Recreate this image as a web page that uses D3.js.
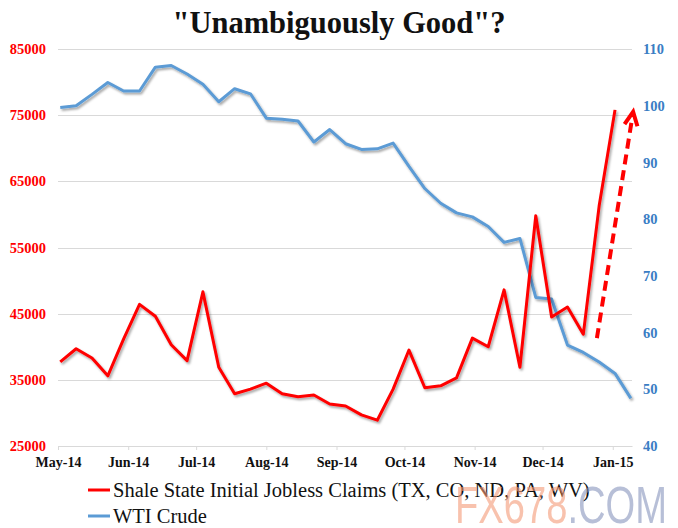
<!DOCTYPE html>
<html><head><meta charset="utf-8">
<script src="https://cdn.jsdelivr.net/npm/d3@7"></script>
<style>body{margin:0;background:#fff}svg{display:block}</style>
</head><body><svg id="c" width="678" height="528"></svg>
<script>
const dates = ["2014-05-02","2014-05-09","2014-05-16","2014-05-23","2014-05-30","2014-06-06","2014-06-13","2014-06-20","2014-06-27","2014-07-04","2014-07-11","2014-07-18","2014-07-25","2014-08-01","2014-08-08","2014-08-15","2014-08-22","2014-08-29","2014-09-05","2014-09-12","2014-09-19","2014-09-26","2014-10-03","2014-10-10","2014-10-17","2014-10-24","2014-10-31","2014-11-07","2014-11-14","2014-11-21","2014-11-28","2014-12-05","2014-12-12","2014-12-19","2014-12-26","2015-01-02","2015-01-09"];
const claims = [37700,39700,38300,35600,41200,46400,44600,40300,37900,48300,36900,32900,33600,34500,32900,32450,32700,31350,31050,29700,28900,33600,39500,33800,34100,35300,41300,40000,48600,36900,59800,44500,46000,41900,61300,75800];
const wti = [99.7,100.0,102.0,104.1,102.6,102.6,106.8,107.1,105.6,103.8,100.7,103.0,102.1,97.8,97.6,97.3,93.6,95.8,93.3,92.3,92.4,93.4,89.3,85.4,82.8,81.1,80.4,78.7,75.9,76.6,66.2,65.9,57.8,56.5,54.8,52.8,48.4];
const leftTicks = [25000,35000,45000,55000,65000,75000,85000];
const rightTicks = [40,50,60,70,80,90,100,110];
const monthTicks = ["2014-05-01","2014-06-01","2014-07-01","2014-08-01","2014-09-01","2014-10-01","2014-11-01","2014-12-01","2015-01-01"];
const xDomain = ["2014-05-01","2015-01-09T12:00"];
const arrowFrom = {date:"2014-12-25", value:41300};
const arrowTo = {date:"2015-01-10", value:75500};
const titleText = "\"Unambiguously Good\"?";
const legendItems = [{name:"Shale State Initial Jobless Claims (TX, CO, ND, PA, WV)", color:"#ff0000"},{name:"WTI Crude", color:"#5b9bd5"}];

const parse = s => new Date(s.length>10 ? s : s+"T00:00");
const svg = d3.select("#c");
const serif = "'Liberation Serif','Times New Roman',serif";
const L = 58, R = 632, T = 49, B = 446;

const x = d3.scaleTime().domain(xDomain.map(parse)).range([L,R]);
const yL = d3.scaleLinear().domain([25000,85000]).range([B,T]);
const yR = d3.scaleLinear().domain([40,110]).range([B,T]);

const defs = svg.append("defs");
const f = defs.append("filter").attr("id","sh").attr("x","-10%").attr("y","-10%").attr("width","120%").attr("height","120%");
f.append("feDropShadow").attr("dx",1.5).attr("dy",2).attr("stdDeviation",1.2).attr("flood-color","#000").attr("flood-opacity",0.35);

// title
svg.append("text").attr("x",339).attr("y",33).attr("text-anchor","middle")
  .attr("font-family",serif).attr("font-weight","bold").attr("font-size",30.5).attr("fill","#111").text(titleText);

// gridlines
svg.append("g").selectAll("line").data(leftTicks).join("line")
  .attr("x1",L).attr("x2",R).attr("y1",d=>Math.round(yL(d))+0.5).attr("y2",d=>Math.round(yL(d))+0.5)
  .attr("stroke","#d9d9d9").attr("stroke-width",1);

// x axis
const xa = svg.append("g").attr("transform",`translate(0,${B})`)
  .call(d3.axisBottom(x).tickValues(monthTicks.map(parse)).tickFormat(d3.timeFormat("%b-%y")).tickSize(4).tickSizeOuter(0));
xa.select(".domain").attr("stroke","#d9d9d9");
xa.selectAll(".tick line").attr("stroke","#d9d9d9");
xa.selectAll(".tick text").attr("font-family",serif).attr("font-weight","bold").attr("font-size",14).attr("fill","#111").attr("dy","1.0em");

// left axis labels
svg.append("g").selectAll("text").data(leftTicks).join("text")
  .attr("x",46).attr("y",d=>yL(d)).attr("dy","0.35em").attr("text-anchor","end")
  .attr("font-family",serif).attr("font-weight","bold").attr("font-size",14.5).attr("fill","#ff0000").text(d=>d);
// right axis labels
svg.append("g").selectAll("text").data(rightTicks).join("text")
  .attr("x",643).attr("y",d=>yR(d)).attr("dy","0.35em").attr("text-anchor","start")
  .attr("font-family",serif).attr("font-weight","bold").attr("font-size",14.5).attr("fill","#3a7dc4").text(d=>d);

// lines
const wtiData = wti.map((v,i)=>({d:parse(dates[i]),v}));
const clData = claims.map((v,i)=>({d:parse(dates[i]),v}));
svg.append("path").datum(wtiData).attr("fill","none").attr("stroke","#5b9bd5").attr("stroke-width",3).attr("stroke-linejoin","round")
  .attr("filter","url(#sh)").attr("d",d3.line().x(p=>x(p.d)).y(p=>yR(p.v)));
svg.append("path").datum(clData).attr("fill","none").attr("stroke","#ff0000").attr("stroke-width",3).attr("stroke-linejoin","round")
  .attr("filter","url(#sh)").attr("d",d3.line().x(p=>x(p.d)).y(p=>yL(p.v)));

// arrow
const ax1 = x(parse(arrowFrom.date)), ay1 = yL(arrowFrom.value);
const ax2 = x(parse(arrowTo.date)), ay2 = yL(arrowTo.value);
const ang = Math.atan2(ay2-ay1, ax2-ax1);
svg.append("line").attr("x1",ax1).attr("y1",ay1).attr("x2",ax2-Math.cos(ang)*4).attr("y2",ay2-Math.sin(ang)*4)
  .attr("stroke","#ff0000").attr("stroke-width",4).attr("stroke-dasharray","10,6");
const hl = 15, ha = 0.45;
svg.append("polyline").attr("points",[
  [ax2-hl*Math.cos(ang-ha), ay2-hl*Math.sin(ang-ha)],[ax2,ay2],[ax2-hl*Math.cos(ang+ha), ay2-hl*Math.sin(ang+ha)]].map(p=>p.join(",")).join(" "))
  .attr("fill","none").attr("stroke","#ff0000").attr("stroke-width",4).attr("stroke-linejoin","miter");

// legend
const lg = svg.append("g").selectAll("g").data(legendItems).join("g").attr("transform",(d,i)=>`translate(0,${490+i*26})`);
lg.append("line").attr("x1",88).attr("x2",110).attr("y1",0).attr("y2",0).attr("stroke",d=>d.color).attr("stroke-width",3);
lg.append("text").attr("x",113).attr("y",6.5).attr("font-family",serif).attr("font-size",20.5).attr("fill","#111").text(d=>d.name);

// watermark
const wm = svg.append("text").attr("x",455).attr("y",523).attr("font-family","'Liberation Sans',Arial,sans-serif").attr("font-size",52)
  .attr("opacity",0.6).attr("textLength",212).attr("lengthAdjust","spacingAndGlyphs");
wm.append("tspan").attr("fill","#f59a78").text("FX678");
wm.append("tspan").attr("fill","#8895bd").text(".COM");
</script></body></html>
